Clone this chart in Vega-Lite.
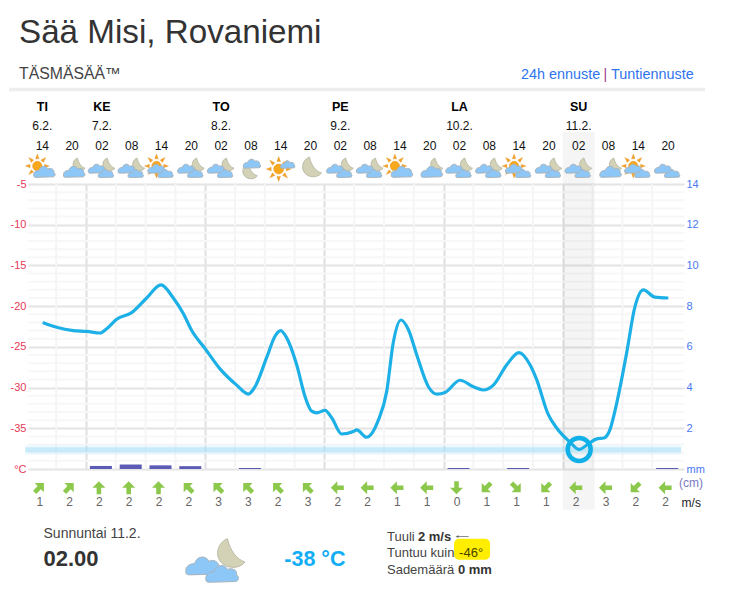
{
  "$schema": "https://vega.github.io/schema/vega-lite/v6.json",
  "background": "#ffffff",
  "autosize": "none",
  "width": 656,
  "height": 285,
  "padding": {"left": 28, "top": 184, "right": 45, "bottom": 124},
  "config": {
    "font": "Liberation Sans",
    "view": {"stroke": null},
    "point": {"opacity": 1},
    "text": {"font": "Liberation Sans"},
    "style": {
      "cloud": {
        "shape": "M-1 0.5 C-1.1 0.1 -0.75 -0.1 -0.5 -0.05 C-0.4 -0.5 0.15 -0.6 0.35 -0.2 C0.6 -0.35 1 -0.15 0.9 0.15 C1.1 0.2 1.05 0.55 0.85 0.55 L-0.8 0.6 C-0.9 0.6 -1 0.55 -1 0.5 Z",
        "stroke": "#aab4bb",
        "strokeWidth": 1
      },
      "moon": {
        "shape": "M-0.1 -1 C0.1 -0.2 0.5 0.3 1 0.45 C0.6 1 -0.5 0.9 -0.7 0.1 C-0.8 -0.4 -0.5 -0.85 -0.1 -1 Z",
        "stroke": "#a3a38f",
        "strokeWidth": 0.6
      },
      "rays": {
        "shape": "M-.15 -.6 L0 -1 L.15 -.6 Z M.3 -.5 L.71 -.71 L.5 -.3 Z M.6 -.15 L1 0 L.6 .15 Z M.5 .3 L.71 .71 L.3 .5 Z M.15 .6 L0 1 L-.15 .6 Z M-.3 .5 L-.71 .71 L-.5 .3 Z M-.6 .15 L-1 0 L-.6 -.15 Z M-.5 -.3 L-.71 -.71 L-.3 -.5 Z",
        "stroke": "#e08d17",
        "strokeWidth": 0.3
      },
      "disc": {
        "shape": "circle",
        "stroke": "#e5890f",
        "strokeWidth": 0.4
      }
    }
  },
  "datasets": {
    "periods": [
      {"col": 0.5, "hour": "14", "sky": "sun1", "speed": 1, "rot": 45, "mm": 0},
      {"col": 1.5, "hour": "20", "sky": "moon1", "speed": 2, "rot": 45, "mm": 0},
      {"col": 2.5, "hour": "02", "sky": "moon2", "speed": 2, "rot": 0, "mm": 0.15},
      {"col": 3.5, "hour": "08", "sky": "moon2", "speed": 2, "rot": 0, "mm": 0.22},
      {"col": 4.5, "hour": "14", "sky": "sun2", "speed": 2, "rot": 0, "mm": 0.18},
      {"col": 5.5, "hour": "20", "sky": "moon2", "speed": 2, "rot": 315, "mm": 0.14},
      {"col": 6.5, "hour": "02", "sky": "moon2", "speed": 3, "rot": 315, "mm": 0},
      {"col": 7.5, "hour": "08", "sky": "moonlow", "speed": 3, "rot": 315, "mm": 0.05},
      {"col": 8.5, "hour": "14", "sky": "sunsmall", "speed": 2, "rot": 315, "mm": 0},
      {"col": 9.5, "hour": "20", "sky": "moon", "speed": 3, "rot": 315, "mm": 0},
      {"col": 10.5, "hour": "02", "sky": "moon2", "speed": 2, "rot": 270, "mm": 0},
      {"col": 11.5, "hour": "08", "sky": "moon2", "speed": 2, "rot": 270, "mm": 0},
      {"col": 12.5, "hour": "14", "sky": "sun1", "speed": 1, "rot": 270, "mm": 0},
      {"col": 13.5, "hour": "20", "sky": "moon1", "speed": 1, "rot": 270, "mm": 0},
      {"col": 14.5, "hour": "02", "sky": "moon2", "speed": 0, "rot": 180, "mm": 0.05},
      {"col": 15.5, "hour": "08", "sky": "moon2", "speed": 1, "rot": 225, "mm": 0},
      {"col": 16.5, "hour": "14", "sky": "sun2", "speed": 1, "rot": 135, "mm": 0.05},
      {"col": 17.5, "hour": "20", "sky": "moon2", "speed": 1, "rot": 225, "mm": 0},
      {"col": 18.5, "hour": "02", "sky": "moon2", "speed": 2, "rot": 270, "mm": 0},
      {"col": 19.5, "hour": "08", "sky": "moon1", "speed": 3, "rot": 270, "mm": 0},
      {"col": 20.5, "hour": "14", "sky": "sun2", "speed": 2, "rot": 225, "mm": 0},
      {"col": 21.5, "hour": "20", "sky": "clouds", "speed": 2, "rot": 270, "mm": 0.05}
    ],
    "days": [
      {"col": 0.5, "day": "TI", "date": "6.2."},
      {"col": 2.5, "day": "KE", "date": "7.2."},
      {"col": 6.5, "day": "TO", "date": "8.2."},
      {"col": 10.5, "day": "PE", "date": "9.2."},
      {"col": 14.5, "day": "LA", "date": "10.2."},
      {"col": 18.5, "day": "SU", "date": "11.2."}
    ],
    "temps": [
      {"col": 0.547, "t": -22.0}, {"col": 1.017, "t": -22.6}, {"col": 1.574, "t": -23.0}, {"col": 2.023, "t": -23.1},
      {"col": 2.47, "t": -23.3}, {"col": 2.715, "t": -22.7}, {"col": 3.03, "t": -21.6}, {"col": 3.534, "t": -20.8},
      {"col": 4.037, "t": -19.0}, {"col": 4.517, "t": -17.4}, {"col": 4.93, "t": -19.0}, {"col": 5.265, "t": -20.9},
      {"col": 5.547, "t": -23.0}, {"col": 5.993, "t": -25.2}, {"col": 6.497, "t": -27.7}, {"col": 7.057, "t": -29.7},
      {"col": 7.446, "t": -30.8}, {"col": 7.671, "t": -29.9}, {"col": 8.064, "t": -26.3}, {"col": 8.342, "t": -23.7},
      {"col": 8.534, "t": -23.0}, {"col": 8.735, "t": -23.9}, {"col": 9.07, "t": -27.2}, {"col": 9.349, "t": -31.1},
      {"col": 9.574, "t": -32.9}, {"col": 9.742, "t": -33.1}, {"col": 10.02, "t": -32.8}, {"col": 10.245, "t": -33.7},
      {"col": 10.58, "t": -35.7}, {"col": 10.97, "t": -35.4}, {"col": 11.08, "t": -35.2}, {"col": 11.42, "t": -36.1},
      {"col": 11.81, "t": -34.0}, {"col": 12.09, "t": -30.5}, {"col": 12.31, "t": -24.5}, {"col": 12.57, "t": -21.7},
      {"col": 12.82, "t": -22.9}, {"col": 13.1, "t": -26.0}, {"col": 13.49, "t": -29.9}, {"col": 13.77, "t": -30.8},
      {"col": 14.05, "t": -30.6}, {"col": 14.55, "t": -29.1}, {"col": 15.0, "t": -29.9}, {"col": 15.33, "t": -30.3},
      {"col": 15.67, "t": -29.7}, {"col": 16.12, "t": -27.2}, {"col": 16.53, "t": -25.7}, {"col": 16.9, "t": -27.2},
      {"col": 17.12, "t": -29.0}, {"col": 17.51, "t": -33.3}, {"col": 17.8, "t": -35.0}, {"col": 18.24, "t": -36.7},
      {"col": 18.55, "t": -37.6}, {"col": 18.86, "t": -36.9}, {"col": 19.14, "t": -36.3}, {"col": 19.38, "t": -36.2},
      {"col": 19.58, "t": -35.2}, {"col": 19.81, "t": -31.9}, {"col": 20.14, "t": -25.8}, {"col": 20.42, "t": -20.1},
      {"col": 20.7, "t": -18.0}, {"col": 21.09, "t": -18.9}, {"col": 21.54, "t": -19.0}
    ],
    "now": [{"col": 18.55, "t": -37.6}],
    "minorCols": [
      {"col": 1, "t": -5, "t2": -40}, {"col": 3, "t": -5, "t2": -40}, {"col": 4, "t": -5, "t2": -40},
      {"col": 5, "t": -5, "t2": -40}, {"col": 7, "t": -5, "t2": -40}, {"col": 8, "t": -5, "t2": -40},
      {"col": 9, "t": -5, "t2": -40}, {"col": 11, "t": -5, "t2": -40}, {"col": 12, "t": -5, "t2": -40},
      {"col": 13, "t": -5, "t2": -40}, {"col": 15, "t": -5, "t2": -40}, {"col": 16, "t": -5, "t2": -40},
      {"col": 17, "t": -5, "t2": -40}, {"col": 19, "t": -5, "t2": -40}, {"col": 20, "t": -5, "t2": -40},
      {"col": 21, "t": -5, "t2": -40}
    ],
    "minorTemps": [
      {"t": -6}, {"t": -7}, {"t": -8}, {"t": -9}, {"t": -11}, {"t": -12}, {"t": -13}, {"t": -14},
      {"t": -16}, {"t": -17}, {"t": -18}, {"t": -19}, {"t": -21}, {"t": -22}, {"t": -23}, {"t": -24},
      {"t": -26}, {"t": -27}, {"t": -28}, {"t": -29}, {"t": -31}, {"t": -32}, {"t": -33}, {"t": -34},
      {"t": -36}, {"t": -37}, {"t": -38}, {"t": -39}
    ],
    "plainNotes": [
      {"col": 12.1, "t": -48.3, "label": "Tuuli"},
      {"col": 12.1, "t": -50.28, "label": "Tuntuu kuin"},
      {"col": 12.1, "t": -52.36, "label": "Sademäärä"}
    ],
    "boldNotes": [
      {"col": 13.14, "t": -48.3, "label": "2 m/s"},
      {"col": 14.48, "t": -52.36, "label": "0 mm"}
    ],
    "links": [
      {"col": 16.6, "t": 8.37, "label": "24h ennuste"},
      {"col": 19.62, "t": 8.37, "label": "Tuntiennuste"}
    ]
  },
  "resolve": {"scale": {"y": "independent"}, "axis": {"y": "independent"}},
  "layer": [
    {
      "encoding": {
        "x": {
          "field": "col",
          "type": "quantitative",
          "scale": {"domain": [0.0537, 22.067], "nice": false, "zero": false, "padding": 0},
          "axis": {"values": [2, 6, 10, 14, 18], "labels": false, "ticks": false, "domain": false, "title": null, "grid": true, "gridColor": "#e0e0e0", "gridWidth": 2}
        }
      },
      "layer": [
        {
          "encoding": {
            "y": {
              "field": "t",
              "type": "quantitative",
              "scale": {"domain": [-40, -5], "nice": false, "zero": false},
              "axis": {
                "orient": "left",
                "values": [-5, -10, -15, -20, -25, -30, -35, -40],
                "labelExpr": "datum.value == -40 ? '°C' : datum.value",
                "title": null,
                "ticks": false,
                "domain": false,
                "grid": true,
                "gridColor": "#e4e4e4",
                "gridWidth": 2,
                "labelColor": "#e8395a",
                "labelFontSize": 11,
                "labelPadding": 2
              }
            }
          },
          "layer": [
            {
              "data": {"name": "minorTemps"},
              "mark": {"type": "rule", "color": "#f7f7f7", "strokeWidth": 2},
              "encoding": {"x": null}
            },
            {
              "data": {"name": "minorCols"},
              "mark": {"type": "rule", "color": "#f5f5f5", "strokeWidth": 2},
              "encoding": {"y2": {"field": "t2"}}
            },
            {
              "data": {"values": [{"col": 18, "col2": 19.07, "t": 1.38, "t2": -45}]},
              "mark": {"type": "rect", "color": "#000000", "opacity": 0.04},
              "encoding": {"x2": {"field": "col2"}, "y2": {"field": "t2"}}
            },
            {
              "data": {"values": [{"col": -0.04, "col2": 21.97, "t": -37.64}]},
              "mark": {"type": "rule", "color": "#a8e0f7", "strokeWidth": 10, "opacity": 0.18},
              "encoding": {"x2": {"field": "col2"}}
            },
            {
              "data": {"values": [{"col": -0.04, "col2": 21.97, "t": -37.64}]},
              "mark": {"type": "rule", "color": "#a8e0f7", "strokeWidth": 5, "opacity": 0.55},
              "encoding": {"x2": {"field": "col2"}}
            },
            {
              "data": {"values": [{"col": -0.584, "col2": 22.77, "t": 6.6}]},
              "mark": {"type": "rule", "color": "#eeeeee", "strokeWidth": 3.5},
              "encoding": {"x2": {"field": "col2"}}
            },
            {
              "data": {"values": [{"col": 14.35, "col2": 15.56, "t": -48.56, "t2": -51.13}]},
              "mark": {"type": "rect", "color": "#ffee00", "cornerRadius": 5},
              "encoding": {"x2": {"field": "col2"}, "y2": {"field": "t2"}}
            },
            {
              "data": {"values": [{"col": -0.248, "t": 13.53, "label": "Sää Misi, Rovaniemi"}]},
              "mark": {"type": "text", "align": "left", "fontSize": 33.2, "color": "#333333"},
              "encoding": {"text": {"field": "label"}}
            },
            {
              "data": {"values": [{"col": -0.248, "t": 8.5, "label": "TÄSMÄSÄÄ™"}]},
              "mark": {"type": "text", "align": "left", "fontSize": 15.8, "color": "#444444"},
              "encoding": {"text": {"field": "label"}}
            },
            {
              "data": {"name": "links"},
              "mark": {"type": "text", "align": "left", "fontSize": 14.4, "color": "#2f74ee"},
              "encoding": {"text": {"field": "label"}}
            },
            {
              "data": {"values": [{"col": 19.43, "t": 8.37, "label": "|"}]},
              "mark": {"type": "text", "fontSize": 14, "color": "#a0388f"},
              "encoding": {"text": {"field": "label"}}
            },
            {
              "data": {"values": [{"col": 22.3, "t": -41.69, "label": "(cm)"}]},
              "mark": {"type": "text", "fontSize": 12, "color": "#7a7abf"},
              "encoding": {"text": {"field": "label"}}
            },
            {
              "data": {"values": [{"col": 22.31, "t": -44.14, "label": "m/s"}]},
              "mark": {"type": "text", "fontSize": 12, "color": "#222222"},
              "encoding": {"text": {"field": "label"}}
            },
            {
              "data": {"values": [{"col": 0.574, "t": -47.94, "label": "Sunnuntai 11.2."}]},
              "mark": {"type": "text", "align": "left", "fontSize": 14, "color": "#444444"},
              "encoding": {"text": {"field": "label"}}
            },
            {
              "data": {"name": "plainNotes"},
              "mark": {"type": "text", "align": "left", "fontSize": 13, "color": "#444444"},
              "encoding": {"text": {"field": "label"}}
            },
            {
              "data": {"name": "boldNotes"},
              "mark": {"type": "text", "align": "left", "fontSize": 13, "fontWeight": "bold", "color": "#333333"},
              "encoding": {"text": {"field": "label"}}
            },
            {
              "data": {"values": [{"col": 14.52, "t": -50.28, "label": "-46°"}]},
              "mark": {"type": "text", "align": "left", "fontSize": 13, "color": "#444400"},
              "encoding": {"text": {"field": "label"}}
            },
            {
              "data": {"values": [{"col": 0.574, "t": -51.01, "label": "02.00"}]},
              "mark": {"type": "text", "align": "left", "fontSize": 22, "fontWeight": "bold", "color": "#333333"},
              "encoding": {"text": {"field": "label"}}
            },
            {
              "data": {"values": [{"col": 9.68, "t": -51.13, "label": "-38 °C"}]},
              "mark": {"type": "text", "fontSize": 21.5, "fontWeight": "bold", "color": "#11aef5"},
              "encoding": {"text": {"field": "label"}}
            },
            {
              "data": {"values": [{"col": 14.62, "t": -48.3}]},
              "mark": {"type": "point", "shape": "M-1 0 L-0.55 -0.22 L-0.55 -0.05 L1 -0.05 L1 0.05 L-0.55 0.05 L-0.55 0.22 Z", "filled": true, "size": 169, "color": "#666666"}
            },
            {
              "data": {"name": "temps"},
              "mark": {"type": "line", "interpolate": "monotone", "color": "#1cb0e6", "strokeWidth": 3.2}
            },
            {
              "data": {"name": "now"},
              "mark": {"type": "point", "filled": false, "size": 529, "color": "#0fb0e8", "strokeWidth": 4.5}
            },
            {
              "data": {"values": [{"col": 6.33, "t": -51.26}]},
              "layer": [
                {"mark": {"type": "point", "style": "moon", "filled": true, "fill": "#d3d1b6", "size": 1024, "xOffset": 14, "yOffset": -6}},
                {"mark": {"type": "point", "style": "cloud", "filled": true, "fill": "#8cc7f7", "size": 1156, "xOffset": -12, "yOffset": 4}},
                {"mark": {"type": "point", "style": "cloud", "filled": true, "fill": "#8cc7f7", "size": 1024, "xOffset": 7, "yOffset": 12}}
              ]
            }
          ]
        },
        {
          "data": {"name": "days"},
          "mark": {"type": "text", "fontSize": 12.5, "fontWeight": "bold", "color": "#000000", "dx": 1},
          "encoding": {"y": {"datum": 4.45, "type": "quantitative", "scale": {"domain": [-40, -5], "nice": false, "zero": false}}, "text": {"field": "day"}}
        },
        {
          "data": {"name": "days"},
          "mark": {"type": "text", "fontSize": 12, "color": "#111111", "dx": 1},
          "encoding": {"y": {"datum": 2.12, "type": "quantitative", "scale": {"domain": [-40, -5], "nice": false, "zero": false}}, "text": {"field": "date"}}
        },
        {
          "data": {"name": "periods"},
          "mark": {"type": "text", "fontSize": 12, "color": "#111111", "dx": 1},
          "encoding": {"y": {"datum": -0.34, "type": "quantitative", "scale": {"domain": [-40, -5], "nice": false, "zero": false}}, "text": {"field": "hour"}}
        },
        {
          "data": {"name": "periods"},
          "mark": {"type": "point", "shape": "M0 -1 L1 0 L0.35 0 L0.35 1 L-0.35 1 L-0.35 0 L-1 0 Z", "filled": true, "size": 170, "color": "#8cc84b", "xOffset": -2},
          "encoding": {"y": {"datum": -42.3, "type": "quantitative", "scale": {"domain": [-40, -5], "nice": false, "zero": false}}, "angle": {"field": "rot", "type": "quantitative", "scale": null}}
        },
        {
          "data": {"name": "periods"},
          "mark": {"type": "text", "fontSize": 12, "color": "#666666", "dx": -1.5},
          "encoding": {"y": {"datum": -44.0, "type": "quantitative", "scale": {"domain": [-40, -5], "nice": false, "zero": false}}, "text": {"field": "speed"}}
        },
        {
          "data": {"name": "periods"},
          "encoding": {"y": {"datum": -3.04, "type": "quantitative", "scale": {"domain": [-40, -5], "nice": false, "zero": false}}},
          "layer": [
            {
              "transform": [{"filter": "indexof(['sun1','sun2'], datum.sky) >= 0"}],
              "mark": {"type": "point", "style": "rays", "filled": true, "fill": "#f2a32a", "size": 576, "xOffset": -4, "yOffset": -2}
            },
            {
              "transform": [{"filter": "indexof(['sun1','sun2'], datum.sky) >= 0"}],
              "mark": {"type": "point", "style": "disc", "filled": true, "fill": "#f7a81c", "size": 90, "xOffset": -4, "yOffset": -2}
            },
            {
              "transform": [{"filter": "datum.sky == 'sunsmall'"}],
              "mark": {"type": "point", "style": "rays", "filled": true, "fill": "#f2a32a", "size": 625, "xOffset": -1, "yOffset": 1}
            },
            {
              "transform": [{"filter": "datum.sky == 'sunsmall'"}],
              "mark": {"type": "point", "style": "disc", "filled": true, "fill": "#f7a81c", "size": 100, "xOffset": -1, "yOffset": 1}
            },
            {
              "transform": [{"filter": "indexof(['moon1','moon2'], datum.sky) >= 0"}],
              "mark": {"type": "point", "style": "moon", "filled": true, "fill": "#d3d1b6", "size": 196, "xOffset": 7, "yOffset": -3}
            },
            {
              "transform": [{"filter": "datum.sky == 'moonlow'"}],
              "mark": {"type": "point", "style": "moon", "filled": true, "fill": "#d3d1b6", "size": 289, "xOffset": -1, "yOffset": 4}
            },
            {
              "transform": [{"filter": "datum.sky == 'moon'"}],
              "mark": {"type": "point", "style": "moon", "filled": true, "fill": "#d3d1b6", "size": 484, "xOffset": 1, "yOffset": 0}
            },
            {
              "transform": [{"filter": "indexof(['sun1','moon1'], datum.sky) >= 0"}],
              "mark": {"type": "point", "style": "cloud", "filled": true, "fill": "#8cc7f7", "size": 441, "xOffset": 3, "yOffset": 3}
            },
            {
              "transform": [{"filter": "indexof(['moon2','sun2','clouds'], datum.sky) >= 0"}],
              "mark": {"type": "point", "style": "cloud", "filled": true, "fill": "#8cc7f7", "size": 289, "xOffset": -4, "yOffset": 0}
            },
            {
              "transform": [{"filter": "indexof(['moon2','sun2','clouds'], datum.sky) >= 0"}],
              "mark": {"type": "point", "style": "cloud", "filled": true, "fill": "#8cc7f7", "size": 225, "xOffset": 5, "yOffset": 5}
            },
            {
              "transform": [{"filter": "datum.sky == 'moonlow'"}],
              "mark": {"type": "point", "style": "cloud", "filled": true, "fill": "#8cc7f7", "size": 289, "xOffset": 2, "yOffset": -5}
            },
            {
              "transform": [{"filter": "datum.sky == 'sunsmall'"}],
              "mark": {"type": "point", "style": "cloud", "filled": true, "fill": "#8cc7f7", "size": 196, "xOffset": 8, "yOffset": -4}
            }
          ]
        }
      ]
    },
    {
      "data": {"name": "periods"},
      "transform": [{"filter": "datum.mm > 0"}],
      "mark": {"type": "bar", "orient": "vertical", "width": 22, "color": "#5b5bb5"},
      "encoding": {
        "x": {
          "field": "col",
          "type": "quantitative",
          "scale": {"domain": [0.0537, 22.067], "nice": false, "zero": false, "padding": 0},
          "axis": {"values": [2, 6, 10, 14, 18], "labels": false, "ticks": false, "domain": false, "title": null, "grid": true, "gridColor": "#e0e0e0", "gridWidth": 2}
        },
        "y": {
          "field": "mm",
          "type": "quantitative",
          "stack": null,
          "scale": {"domain": [0, 14], "nice": false},
          "axis": {
            "orient": "right",
            "values": [0, 2, 4, 6, 8, 10, 12, 14],
            "labelExpr": "datum.value == 0 ? 'mm' : datum.value",
            "title": null,
            "ticks": false,
            "domain": false,
            "grid": false,
            "labelColor": "#4a78f5",
            "labelFontSize": 11,
            "labelPadding": 2
          }
        }
      }
    }
  ]
}
